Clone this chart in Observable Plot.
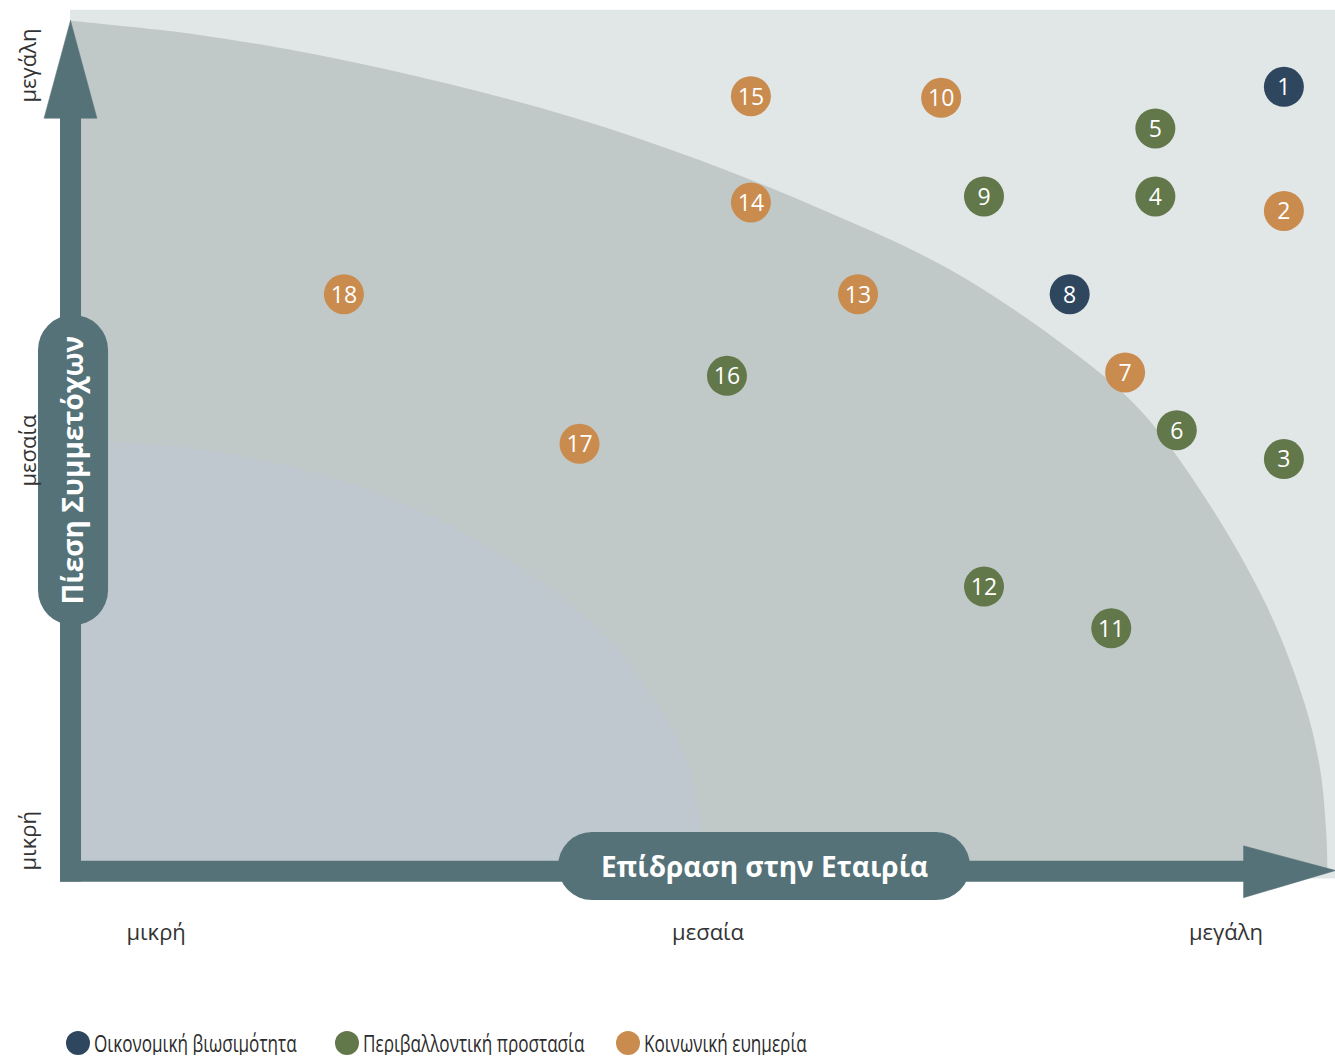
<!DOCTYPE html>
<html>
<head>
<meta charset="utf-8">
<script src="https://cdn.jsdelivr.net/npm/d3@7"></script>
<script src="https://cdn.jsdelivr.net/npm/@observablehq/plot@0.6"></script>
<style>
  html, body { margin: 0; padding: 0; background: #fff; }
  #chart svg { display: block; }
  #legend { position: relative; height: 30px; width: 1335px; font-family: "Open Sans", sans-serif; font-size: 23px; color: #2b2b2b; }
  .item { position: absolute; top: 4px; height: 26px; line-height: 26px; white-space: nowrap; }
  .sw { display: inline-block; width: 24px; height: 24px; border-radius: 50%; vertical-align: middle; position: relative; top: -2px; }
  .lbl { display: inline-block; transform: scaleX(0.745); transform-origin: 0 50%; margin-left: 4px; vertical-align: middle; position: relative; top: -2px; }
</style>
</head>
<body>
<div id="chart"></div>
<div id="legend"></div>
<script>
// ---- data ----
const categories = ["Οικονομική βιωσιμότητα", "Περιβαλλοντική προστασία", "Κοινωνική ευημερία"];
const categoryColors = ["#2f465f", "#63784a", "#c98b4e"];
const legendLeft = [66, 335, 616];

const ids      = [1, 2, 3, 4, 5, 6, 7, 8, 9, 10, 11, 12, 13, 14, 15, 16, 17, 18];
const impact   = [9.63, 9.63, 9.63, 8.61, 8.61, 8.78, 8.37, 7.93, 7.25, 6.91, 8.26, 7.25, 6.25, 5.40, 5.40, 5.21, 4.04, 2.17];
const pressure = [9.22, 7.76, 4.84, 7.93, 8.73, 5.18, 5.86, 6.78, 7.93, 9.09, 2.85, 3.34, 6.78, 7.86, 9.11, 5.82, 5.02, 6.78];
const groupIdx = [0, 2, 1, 1, 1, 1, 2, 0, 1, 2, 1, 1, 2, 2, 2, 1, 2, 2];

const xTickLabels = ["μικρή", "μεσαία", "μεγάλη"];
const xTickPos = [0.68, 5.06, 9.17];
const yTickLabels = ["μικρή", "μεσαία", "μεγάλη"];
const yTickPos = [0.35, 4.94, 9.47];

const xTitle = "Επίδραση στην Εταιρία";
const yTitle = "Πίεση Συμμετόχων";

// zone boundaries
const outerX = [0, 1.0, 2.0, 3.0, 4.0, 5.0, 6.0, 7.0, 8.0, 8.5, 9.0, 9.5, 9.8, 9.92, 9.97, 9.98];
const outerY = [9.99, 9.83, 9.58, 9.25, 8.85, 8.35, 7.75, 7.05, 6.05, 5.40, 4.40, 3.10, 1.95, 1.2, 0.45, 0];
const innerX = [0, 1, 2, 3, 4, 4.5, 4.9, 5.06];
const innerY = [5.06, 4.96, 4.65, 4.07, 3.10, 2.31, 1.26, 0];

// arrow heads (triangles)
const vHeadX = [0, -0.21, 0.21, 0];
const vHeadY = [10.0, 8.85, 8.85, 10.0];
const hHeadX = [10.04, 9.31, 9.31, 10.04];
const hHeadY = [0, 0.29, -0.32, 0];

const pts = ids.map((id, i) => ({id, x: impact[i], y: pressure[i], g: categories[groupIdx[i]]}));
const outer = outerX.map((x, i) => ({x, y: outerY[i]}));
const inner = innerX.map((x, i) => ({x, y: innerY[i]}));
const vHead = vHeadX.map((x, i) => ({x, y: vHeadY[i]}));
const hHead = hHeadX.map((x, i) => ({x, y: hHeadY[i]}));

const arrowColor = "#567279";

const chart = Plot.plot({
  width: 1335,
  height: 1025,
  marginLeft: 70,
  marginRight: 5,
  marginTop: 20,
  marginBottom: 155,
  x: {domain: [0, 10], axis: null},
  y: {domain: [0, 10], axis: null},
  color: {domain: categories, range: categoryColors},
  marks: [
    Plot.rect([0], {x1: 0, x2: 10.05, y1: -0.1, y2: 10.12, fill: "#e1e6e7"}),
    Plot.areaY(outer, {x: "x", y: "y", curve: "catmull-rom", fill: "#c0c9c7"}),
    Plot.areaY(inner, {x: "x", y: "y", curve: "catmull-rom", fill: "#c0c8cf"}),
    // arrow shafts
    Plot.link([0], {x1: 0, y1: -0.13, x2: 0, y2: 9.0, stroke: arrowColor, strokeWidth: 21, strokeLinecap: "butt"}),
    Plot.link([0], {x1: -0.083, y1: -0.01, x2: 9.4, y2: -0.01, stroke: arrowColor, strokeWidth: 21, strokeLinecap: "butt"}),
    Plot.line(vHead, {x: "x", y: "y", fill: arrowColor, stroke: arrowColor, strokeWidth: 0.5}),
    Plot.line(hHead, {x: "x", y: "y", fill: arrowColor, stroke: arrowColor, strokeWidth: 0.5}),
    // pills
    Plot.rect([0], {x1: 3.873, x2: 7.143, y1: -0.353, y2: 0.447, fill: arrowColor, rx: 34}),
    Plot.rect([0], {x1: -0.254, x2: 0.302, y1: 2.88, y2: 6.53, fill: arrowColor, rx: 35}),
    Plot.text([xTitle], {x: 5.508, y: 0.03, text: d => d, fill: "white", fontSize: 28, fontWeight: "bold", fontFamily: "Open Sans", textAnchor: "middle"}),
    Plot.text([yTitle], {x: 0.03, y: 4.71, text: d => d, fill: "white", fontSize: 28, fontWeight: "bold", fontFamily: "Open Sans", rotate: -90, textAnchor: "middle"}),
    // tick labels
    Plot.text(xTickLabels, {x: (d, i) => xTickPos[i], y: -0.74, text: d => d, fontSize: 22, fontFamily: "Open Sans", fill: "#333"}),
    Plot.text(yTickLabels, {x: -0.33, y: (d, i) => yTickPos[i], text: d => d, fontSize: 22, fontFamily: "Open Sans", fill: "#333", rotate: -90}),
    // points
    Plot.dot(pts, {x: "x", y: "y", r: 20, fill: "g", stroke: "none"}),
    Plot.text(pts, {x: "x", y: "y", text: d => String(d.id), fill: "white", fontSize: 23, fontFamily: "Open Sans", dy: 1})
  ]
});
document.getElementById("chart").appendChild(chart);

const legend = document.getElementById("legend");
categories.forEach((c, i) => {
  const item = document.createElement("div");
  item.className = "item";
  item.style.left = legendLeft[i] + "px";
  const sw = document.createElement("span");
  sw.className = "sw";
  sw.style.background = categoryColors[i];
  item.appendChild(sw);
  const lbl = document.createElement("span");
  lbl.className = "lbl";
  lbl.textContent = c;
  item.appendChild(lbl);
  legend.appendChild(item);
});
</script>
</body>
</html>
